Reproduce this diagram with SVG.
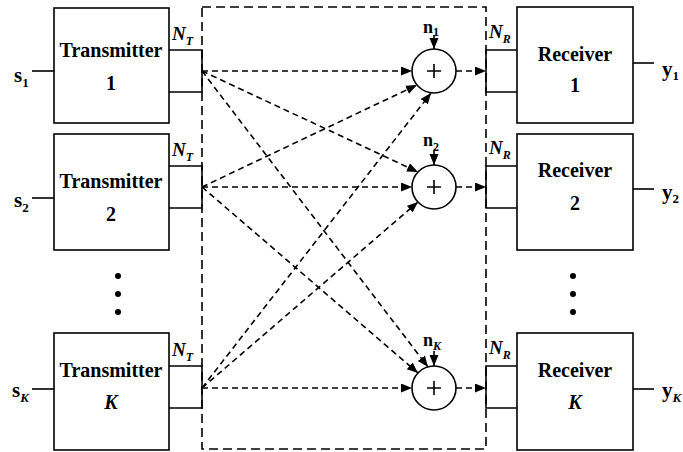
<svg xmlns="http://www.w3.org/2000/svg" width="683" height="452" viewBox="0 0 683 452">
<style>
.box{fill:#fff;stroke:#000;stroke-width:1.6}
.ln{fill:none;stroke:#000;stroke-width:1.6}
.dash{fill:none;stroke:#000;stroke-width:1.6;stroke-dasharray:6 4}
.frame{fill:none;stroke:#000;stroke-width:1.6;stroke-dasharray:9 5}
.t{font-family:"Liberation Serif","Times New Roman",serif;font-weight:bold;fill:#000}
.big{font-size:20px;text-anchor:middle}
.it{font-style:italic}
</style>
<defs>
<marker id="ah" markerUnits="userSpaceOnUse" markerWidth="12" markerHeight="10" refX="11" refY="4.5" orient="auto">
<path d="M0,0 L11,4.5 L0,9 z" fill="#000"/>
</marker>
</defs>

<rect class="frame" x="202" y="7" width="284" height="442"/>

<g id="tx1">
<rect class="box" x="54" y="8" width="115" height="115"/>
<polyline class="ln" points="169,50 202,50 202,92 169,92"/>
<line class="ln" x1="32" y1="71" x2="54" y2="71"/>
<text class="t big" x="111" y="57">Transmitter</text>
<text class="t big" x="111" y="90">1</text>
<text class="t it" x="172" y="40" font-size="19">N<tspan font-size="12" dy="5">T</tspan></text>
<text class="t" x="14" y="82" font-size="21">s<tspan font-size="13" dy="5">1</tspan></text>
</g>

<g id="tx2">
<rect class="box" x="54" y="134" width="115" height="116"/>
<polyline class="ln" points="169,166 202,166 202,208 169,208"/>
<line class="ln" x1="32" y1="198" x2="54" y2="198"/>
<text class="t big" x="111" y="188">Transmitter</text>
<text class="t big" x="111" y="221">2</text>
<text class="t it" x="172" y="156" font-size="19">N<tspan font-size="12" dy="5">T</tspan></text>
<text class="t" x="14" y="207" font-size="21">s<tspan font-size="13" dy="5">2</tspan></text>
</g>

<g id="txdots">
<circle cx="118" cy="276" r="3"/><circle cx="118" cy="294" r="3"/><circle cx="118" cy="312" r="3"/>
</g>

<g id="txK">
<rect class="box" x="54" y="333" width="115" height="117"/>
<polyline class="ln" points="169,366 202,366 202,408 169,408"/>
<line class="ln" x1="32" y1="389" x2="54" y2="389"/>
<text class="t big" x="111" y="377">Transmitter</text>
<text class="t big it" x="111" y="409">K</text>
<text class="t it" x="172" y="356" font-size="19">N<tspan font-size="12" dy="5">T</tspan></text>
<text class="t" x="12" y="397" font-size="21">s<tspan class="it" font-size="13" dy="5">K</tspan></text>
</g>

<g id="sum1">
<circle class="ln" cx="434" cy="71" r="22"/>
<path class="ln" d="M427,71 H441 M434,64 V78"/>
<text class="t" x="423" y="33" font-size="18">n<tspan font-size="12" dy="3">1</tspan></text>
</g>
<g id="sum2">
<circle class="ln" cx="434" cy="187" r="22"/>
<path class="ln" d="M427,187 H441 M434,180 V194"/>
<text class="t" x="423" y="146" font-size="18">n<tspan font-size="12" dy="5">2</tspan></text>
</g>
<g id="sumK">
<circle class="ln" cx="434" cy="388" r="22"/>
<path class="ln" d="M427,388 H441 M434,381 V395"/>
<text class="t" x="423" y="346" font-size="18">n<tspan class="it" font-size="12" dy="4">K</tspan></text>
</g>

<g id="rx1">
<rect class="box" x="517" y="7" width="116" height="116"/>
<polyline class="ln" points="517,50 486,50 486,92 517,92"/>
<line class="ln" x1="633" y1="63" x2="654" y2="63"/>
<text class="t big" x="575" y="61">Receiver</text>
<text class="t big" x="575" y="92">1</text>
<text class="t it" x="489" y="38" font-size="19">N<tspan font-size="12" dy="5">R</tspan></text>
<text class="t" x="662" y="76" font-size="21">y<tspan font-size="13" dy="4">1</tspan></text>
</g>

<g id="rx2">
<rect class="box" x="517" y="134" width="116" height="116"/>
<polyline class="ln" points="517,166 486,166 486,208 517,208"/>
<line class="ln" x1="633" y1="189" x2="654" y2="189"/>
<text class="t big" x="575" y="177">Receiver</text>
<text class="t big" x="575" y="210">2</text>
<text class="t it" x="489" y="154" font-size="19">N<tspan font-size="12" dy="5">R</tspan></text>
<text class="t" x="662" y="199" font-size="21">y<tspan font-size="13" dy="4">2</tspan></text>
</g>

<g id="rxdots">
<circle cx="573" cy="276" r="3"/><circle cx="573" cy="294" r="3"/><circle cx="573" cy="312" r="3"/>
</g>

<g id="rxK">
<rect class="box" x="517" y="333" width="116" height="117"/>
<polyline class="ln" points="517,366 486,366 486,408 517,408"/>
<line class="ln" x1="633" y1="389" x2="654" y2="389"/>
<text class="t big" x="575" y="377">Receiver</text>
<text class="t big it" x="575" y="409">K</text>
<text class="t it" x="489" y="354" font-size="19">N<tspan font-size="12" dy="5">R</tspan></text>
<text class="t" x="662" y="397" font-size="21">y<tspan class="it" font-size="13" dy="5">K</tspan></text>
</g>

<g id="connectors">
<line class="dash" x1="202" y1="71" x2="412" y2="71" marker-end="url(#ah)"/>
<line class="dash" x1="202" y1="71" x2="418" y2="172" marker-end="url(#ah)"/>
<line class="dash" x1="202" y1="71" x2="428" y2="367" marker-end="url(#ah)"/>
<line class="dash" x1="202" y1="187" x2="417" y2="85" marker-end="url(#ah)"/>
<line class="dash" x1="202" y1="187" x2="412" y2="187" marker-end="url(#ah)"/>
<line class="dash" x1="202" y1="187" x2="418" y2="373" marker-end="url(#ah)"/>
<line class="dash" x1="202" y1="388" x2="431" y2="93" marker-end="url(#ah)"/>
<line class="dash" x1="202" y1="388" x2="418" y2="202" marker-end="url(#ah)"/>
<line class="dash" x1="202" y1="388" x2="412" y2="388" marker-end="url(#ah)"/>
<line class="dash" x1="456" y1="71" x2="486" y2="71" marker-end="url(#ah)"/>
<line class="dash" x1="456" y1="187" x2="486" y2="187" marker-end="url(#ah)"/>
<line class="dash" x1="456" y1="388" x2="486" y2="388" marker-end="url(#ah)"/>
<line class="ln" x1="434" y1="35" x2="434" y2="49" marker-end="url(#ah)"/>
<line class="ln" x1="434" y1="150" x2="434" y2="165" marker-end="url(#ah)"/>
<line class="ln" x1="434" y1="351" x2="434" y2="366" marker-end="url(#ah)"/>
</g>
</svg>
